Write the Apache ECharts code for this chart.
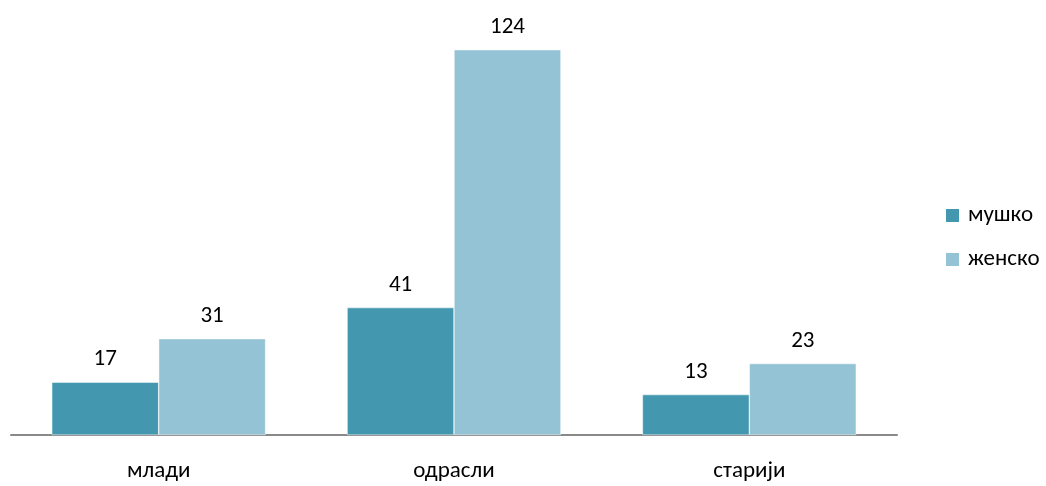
<!DOCTYPE html>
<html><head><meta charset="utf-8">
<script src="https://cdn.jsdelivr.net/npm/echarts@6/dist/echarts.min.js"></script>
<style>html,body{margin:0;padding:0;background:#fff}#c{width:1046px;height:486px}</style>
</head><body><div id="c"></div>
<script>
const categories = ['млади', 'одрасли', 'старији'];
const seriesNames = ['мушко', 'женско'];
const male = [17, 41, 13];
const female = [31, 124, 23];
const FONT = 'Carlito, Lato, "Open Sans", sans-serif';
const chart = echarts.init(document.getElementById('c'));
chart.setOption({
  animation: false,
  textStyle: { fontFamily: FONT },
  grid: { left: 11, right: 149, top: 0, bottom: 51, containLabel: false },
  legend: {
    orient: 'vertical', left: 939, top: 199,
    itemWidth: 15, itemHeight: 15, itemGap: 21,
    icon: 'rect',
    textStyle: { fontSize: 23, color: '#000', fontFamily: FONT, padding: [0, 0, 0, 3] },
    data: seriesNames
  },
  xAxis: {
    type: 'category', data: categories,
    axisLine: { lineStyle: { color: '#898989', width: 2 } },
    axisTick: { show: false },
    axisLabel: { fontSize: 23, color: '#000', margin: 25, fontFamily: FONT }
  },
  yAxis: { type: 'value', min: 0, max: 140, show: false, splitLine: { show: false } },
  series: [
    { name: seriesNames[0], type: 'bar', data: male, barGap: '0%', barCategoryGap: '27.6%',
      itemStyle: { color: '#4398B0', borderColor: '#ffffff', borderWidth: 0.5 },
      label: { show: true, position: 'top', distance: 11, fontSize: 23, color: '#000', fontFamily: FONT } },
    { name: seriesNames[1], type: 'bar', data: female, barGap: '0%', barCategoryGap: '27.6%',
      itemStyle: { color: '#93C3D5', borderColor: '#ffffff', borderWidth: 0.5 },
      label: { show: true, position: 'top', distance: 11, fontSize: 23, color: '#000', fontFamily: FONT } }
  ]
});
</script></body></html>
